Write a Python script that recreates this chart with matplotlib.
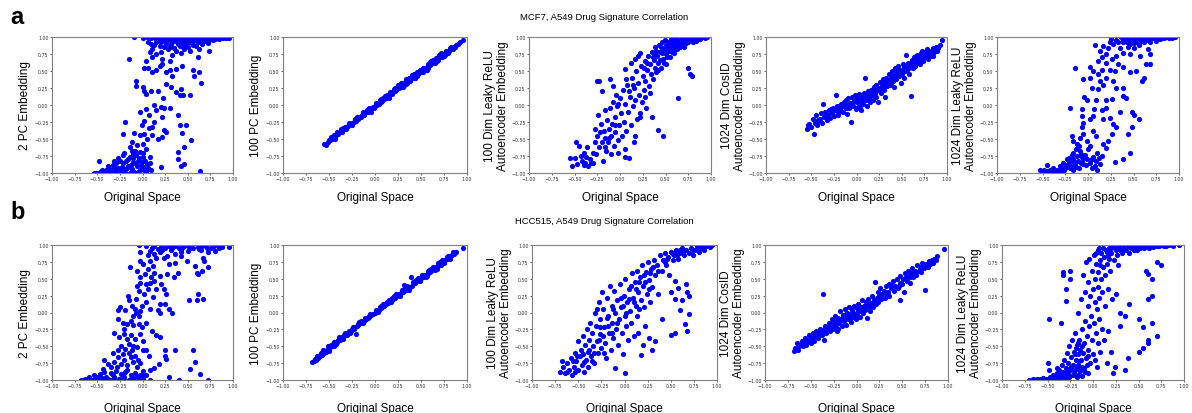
import numpy as np
import matplotlib
matplotlib.use('Agg')
import matplotlib.pyplot as plt

plt.rcParams['font.family'] = ['Liberation Sans', 'DejaVu Sans']

row_titles = ['MCF7, A549 Drug Signature Correlation', 'HCC515, A549 Drug Signature Correlation']
row_letters = ['a', 'b']
ylabels = ['2 PC Embedding', '100 PC Embedding',
           '100 Dim Leaky ReLU\nAutoencoder Embedding',
           '1024 Dim CosID\nAutoencoder Embedding',
           '1024 Dim Leaky ReLU\nAutoencoder Embedding']
xlabel = 'Original Space'
ticks = [-1.0, -0.75, -0.5, -0.25, 0.0, 0.25, 0.5, 0.75, 1.0]

# ---- row a : MCF7 vs A549 (x = original space, y = embedding)
mcf7_pc2 = np.array([
    (-0.09, 1.00), (-0.15, 0.67), (0.04, 0.65), (0.06, 0.55), (0.02, 0.54), (0.11, 0.48), (0.15, 0.51),
    (0.19, 0.58), (0.22, 0.60), (0.26, 0.48), (0.30, 0.51), (0.33, 0.43), (0.37, 0.53), (0.44, 0.58),
    (0.56, 0.52), (0.57, 0.43), (0.62, 0.49), (0.65, 0.32), (0.61, 0.71), (0.74, 0.80),
    (-0.07, 0.36), (-0.07, 0.28), (0.00, 0.26), (0.02, 0.21), (0.04, 0.16), (0.09, 0.20), (0.17, 0.21),
    (0.26, 0.31), (0.31, 0.27), (0.37, 0.19), (0.42, 0.24), (0.41, 0.14), (0.45, 0.14), (0.53, 0.14),
    (0.23, 0.11), (0.13, 0.00), (0.04, -0.06), (-0.03, -0.10), (0.15, -0.07), (0.20, -0.03), (0.24, -0.05),
    (0.30, -0.04), (-0.19, -0.25), (0.02, -0.23), (0.07, -0.15), (0.13, -0.25), (0.22, -0.18), (0.39, -0.14),
    (0.41, -0.29), (0.48, -0.29), (-0.01, -0.30), (0.07, -0.34), (0.11, -0.33), (-0.21, -0.43), (-0.09, -0.41),
    (-0.03, -0.44), (0.02, -0.42), (0.11, -0.44), (0.17, -0.50), (0.24, -0.37), (0.26, -0.40), (0.22, -0.47),
    (0.44, -0.41), (0.54, -0.51), (0.46, -0.62), (0.39, -0.69), (0.39, -0.79), (0.43, -0.90), (0.46, -0.87),
    (0.20, -0.91), (0.64, -0.97), (0.08, -0.77), (0.04, -0.64), (0.00, -0.58), (-0.06, -0.59), (0.05, -0.50),
    (-0.12, -0.55), (-0.14, -0.62), (-0.12, -0.67), (-0.11, -0.72), (-0.07, -0.74), (-0.05, -0.82),
    (-0.01, -0.84), (-0.11, -0.84), (-0.16, -0.79), (-0.22, -0.74), (-0.25, -0.82), (-0.29, -0.86),
    (-0.32, -0.91), (-0.36, -0.94), (-0.40, -0.96), (-0.43, -0.98), (-0.47, -0.99), (-0.51, -1.00),
    (-0.54, -1.00), (-0.48, -0.83), (-0.29, -0.96), (-0.23, -0.91), (-0.20, -0.96), (-0.16, -0.89),
    (-0.12, -0.94), (-0.09, -0.99), (-0.03, -0.96), (0.00, -0.91), (0.04, -0.99), (-0.05, -0.99),
    (-0.25, -1.00), (-0.34, -1.00), (-0.42, -1.00), (-0.14, -1.00), (-0.18, -0.82), (-0.08, -0.67),
    (-0.03, -0.69), (0.00, -0.77), (0.03, -0.82), (0.08, -0.85), (0.09, -0.96), (-0.22, -0.85),
    (-0.31, -0.82), (-0.38, -0.90), (-0.27, -0.92), (-0.19, -0.99), (-0.06, -0.90), (0.06, -0.92),
    (-0.35, -0.97), (-0.30, -0.99), (-0.24, -0.95), (-0.17, -0.93), (-0.13, -0.88), (-0.10, -0.78),
    (-0.08, -0.86), (-0.02, -0.88), (0.02, -0.95), (-0.45, -0.95), (-0.39, -0.98), (-0.33, -0.88),
    (-0.27, -0.78), (-0.20, -0.70), (-0.14, -0.76), (-0.04, -0.78), (0.01, -0.71), (0.05, -0.87),
    (0.00, 0.99), (0.05, 1.00), (0.09, 0.98), (0.12, 1.00), (0.15, 0.97), (0.18, 0.99), (0.21, 1.00),
    (0.24, 0.96), (0.27, 0.99), (0.30, 1.00), (0.33, 0.97), (0.36, 0.99), (0.39, 1.00), (0.42, 0.96),
    (0.45, 0.99), (0.48, 1.00), (0.51, 0.97), (0.54, 0.99), (0.57, 1.00), (0.60, 0.97), (0.63, 0.99),
    (0.66, 1.00), (0.69, 0.98), (0.72, 1.00), (0.75, 0.98), (0.78, 0.99), (0.81, 0.98), (0.85, 0.99),
    (0.89, 0.98), (0.96, 0.99), (0.09, 0.90), (0.15, 0.92), (0.19, 0.87), (0.26, 0.90), (0.33, 0.92),
    (0.41, 0.87), (0.48, 0.90), (0.53, 0.92), (0.59, 0.87), (0.66, 0.90), (0.72, 0.91), (0.46, 0.82),
    (0.37, 0.80), (0.28, 0.82), (0.20, 0.78), (0.15, 0.75), (0.11, 0.70), (0.33, 0.73), (0.42, 0.77),
    (0.53, 0.80), (0.08, 0.78), (0.22, 0.68), (0.30, 0.64), (0.11, 0.82), (0.62, 0.82), (0.24, 0.94),
    (0.35, 0.95), (0.44, 0.93), (0.50, 0.95), (0.56, 0.94), (0.62, 0.95), (0.68, 0.94), (0.78, 0.95),
    (0.17, 0.95), (0.30, 0.86), (0.39, 0.90), (0.50, 0.86), (0.56, 0.88), (0.13, 0.88), (0.06, 0.93),
    (0.20, 0.93), (0.28, 0.95), (0.32, 0.89), (0.37, 0.94), (0.40, 0.97), (0.44, 0.89), (0.47, 0.95),
    (0.52, 0.99), (0.55, 0.91), (0.58, 0.96), (0.61, 0.92), (0.64, 0.96), (0.70, 0.96), (0.74, 0.95),
    (0.80, 0.97), (0.84, 0.97), (0.87, 1.00), (0.92, 0.99), (0.24, 0.85), (0.35, 0.84), (0.45, 0.86),
])

mcf7_pc100 = np.array([
    (-0.55, -0.58), (-0.53, -0.59), (-0.51, -0.54), (-0.49, -0.52), (-0.47, -0.50), (-0.45, -0.47),
    (-0.44, -0.50), (-0.42, -0.44), (-0.40, -0.43), (-0.38, -0.40), (-0.36, -0.39), (-0.34, -0.36),
    (-0.32, -0.33), (-0.31, -0.36), (-0.29, -0.31), (-0.27, -0.28), (-0.25, -0.27), (-0.23, -0.25),
    (-0.21, -0.23), (-0.19, -0.19), (-0.18, -0.21), (-0.16, -0.17), (-0.14, -0.15), (-0.12, -0.14),
    (-0.10, -0.11), (-0.08, -0.10), (-0.06, -0.06), (-0.04, -0.11), (-0.04, -0.05), (-0.02, -0.03),
    (0.00, -0.01), (0.02, 0.00), (0.04, 0.02), (0.06, 0.05), (0.08, 0.06), (0.10, 0.09), (0.12, 0.11),
    (0.13, 0.14), (0.15, 0.13), (0.17, 0.16), (0.18, 0.19), (0.20, 0.19), (0.21, 0.23), (0.23, 0.22),
    (0.24, 0.26), (0.26, 0.25), (0.27, 0.29), (0.29, 0.28), (0.30, 0.32), (0.32, 0.30), (0.33, 0.34),
    (0.35, 0.33), (0.36, 0.37), (0.38, 0.36), (0.39, 0.40), (0.41, 0.39), (0.42, 0.43), (0.44, 0.42),
    (0.45, 0.46), (0.47, 0.45), (0.48, 0.49), (0.50, 0.48), (0.51, 0.52), (0.53, 0.51), (0.54, 0.55),
    (0.56, 0.54), (0.58, 0.58), (0.60, 0.59), (0.62, 0.62), (0.64, 0.64), (0.66, 0.66), (0.68, 0.68),
    (0.70, 0.70), (0.72, 0.72), (0.74, 0.74), (0.76, 0.76), (0.78, 0.78), (0.80, 0.80), (0.82, 0.82),
    (0.84, 0.84), (0.86, 0.86), (0.88, 0.88), (0.90, 0.90), (0.96, 0.96), (0.28, 0.33), (0.42, 0.46),
    (0.70, 0.73), (0.65, 0.62), (0.55, 0.52), (0.15, 0.10), (-0.25, -0.30), (-0.33, -0.32), (0.05, 0.08),
    (-0.45, -0.44), (0.58, 0.61), (0.75, 0.72), (0.60, 0.63), (0.34, 0.31), (0.46, 0.43), (0.22, 0.20),
    (-0.50, -0.51), (-0.43, -0.47), (-0.37, -0.36), (-0.30, -0.33), (-0.22, -0.21), (-0.15, -0.18),
    (-0.09, -0.07), (-0.01, -0.04), (0.07, 0.09), (0.11, 0.13), (0.19, 0.16), (0.25, 0.29), (0.31, 0.29),
    (0.37, 0.40), (0.43, 0.40), (0.49, 0.52), (0.52, 0.49), (0.57, 0.56), (0.63, 0.66), (0.67, 0.64),
    (0.71, 0.74), (0.73, 0.70), (0.77, 0.79), (0.79, 0.77), (0.83, 0.85), (0.85, 0.83), (0.92, 0.92),
    (-0.48, -0.47), (-0.41, -0.40), (-0.35, -0.34), (-0.28, -0.26), (-0.20, -0.17), (-0.13, -0.11),
    (-0.07, -0.04), (0.01, 0.03), (0.09, 0.11), (0.16, 0.19), (0.22, 0.25), (0.28, 0.27), (0.34, 0.38),
    (0.40, 0.44), (0.46, 0.49), (0.52, 0.55), (0.58, 0.55), (0.61, 0.65), (0.66, 0.69), (0.69, 0.66),
    (0.72, 0.76), (0.76, 0.73), (0.81, 0.84), (0.87, 0.85), (0.30, 0.26), (0.44, 0.39), (0.56, 0.51),
])

mcf7_leaky100 = np.array([
    (-0.55, -0.78), (-0.53, -0.90), (-0.50, -0.78), (-0.48, -0.55), (-0.47, -0.87), (-0.45, -0.60),
    (-0.43, -0.75), (-0.42, -0.82), (-0.40, -0.88), (-0.40, -0.70), (-0.38, -0.85), (-0.37, -0.77),
    (-0.36, -0.62), (-0.35, -0.90), (-0.33, -0.80), (-0.32, -0.86), (-0.30, -0.70), (-0.30, -0.85),
    (-0.28, -0.55), (-0.27, -0.35), (-0.26, -0.72), (-0.25, -0.45), (-0.24, -0.15), (-0.23, -0.62),
    (-0.22, -0.40), (-0.21, -0.28), (-0.20, -0.55), (-0.19, -0.82), (-0.18, -0.38), (-0.17, -0.08),
    (-0.16, -0.48), (-0.15, -0.68), (-0.14, -0.22), (-0.13, -0.55), (-0.12, -0.35), (-0.11, -0.05),
    (-0.10, -0.45), (-0.10, -0.72), (-0.09, -0.28), (-0.08, 0.05), (-0.07, -0.60), (-0.06, -0.18),
    (-0.05, -0.40), (-0.04, 0.15), (-0.03, -0.02), (-0.02, -0.52), (-0.01, -0.30), (0.00, 0.10),
    (0.01, -0.12), (0.02, -0.45), (0.03, 0.22), (0.04, -0.25), (0.05, -0.65), (0.06, 0.02), (0.07, -0.38),
    (0.08, 0.30), (0.09, -0.10), (0.10, -0.78), (0.11, 0.12), (0.12, -0.30), (0.13, 0.40), (0.14, -0.02),
    (0.15, 0.25), (0.16, -0.45), (0.17, 0.08), (0.18, 0.50), (0.19, -0.20), (0.20, 0.32), (0.21, 0.15),
    (0.22, -0.12), (0.23, 0.58), (0.24, 0.05), (0.25, 0.42), (0.26, 0.22), (0.27, 0.65), (0.28, 0.35),
    (0.29, -0.05), (0.30, 0.52), (0.31, 0.72), (0.32, 0.28), (0.33, 0.60), (0.34, 0.45), (0.35, -0.17),
    (0.35, 0.78), (0.36, 0.38), (0.37, 0.66), (0.38, 0.55), (0.39, 0.85), (0.40, 0.48), (0.41, 0.72),
    (0.42, -0.37), (0.42, 0.62), (0.43, 0.88), (0.44, 0.78), (0.45, 0.55), (0.46, 0.92), (0.47, -0.45),
    (0.47, 0.68), (0.48, 0.82), (0.49, 0.95), (0.50, 0.75), (0.51, 0.60), (0.52, 0.88), (0.53, 0.93),
    (0.54, 0.80), (0.55, 0.70), (0.56, 0.97), (0.57, 0.85), (0.58, 0.90), (0.59, 0.76), (0.60, 0.94),
    (0.61, 0.87), (0.62, 0.98), (0.63, 0.82), (0.64, 0.10), (0.65, 0.92), (0.66, 0.96), (0.67, 0.88),
    (0.68, 0.99), (0.69, 0.93), (0.70, 0.85), (0.71, 0.97), (0.72, 0.91), (0.74, 0.99), (0.75, 0.55),
    (0.76, 0.95), (0.77, 0.45), (0.78, 0.98), (0.79, 0.42), (0.80, 0.93), (0.82, 0.99), (0.84, 0.96),
    (0.86, 0.99), (0.88, 0.97), (0.90, 1.00), (0.93, 0.99), (0.96, 1.00), (-0.25, 0.35), (-0.23, 0.36),
    (-0.20, 0.21), (-0.11, 0.38), (-0.08, 0.28), (0.05, 0.53), (0.07, 0.38), (0.12, 0.62), (0.16, 0.68),
    (0.20, 0.72), (0.22, 0.77), (0.06, -0.76), (0.22, -0.18), (0.15, -0.55), (-0.02, -0.70), (0.28, 0.12),
    (0.33, 0.18), (0.45, 0.85), (0.50, 0.88), (0.55, 0.90), (0.60, 0.82), (0.64, 0.90), (0.68, 0.92),
    (0.73, 0.95), (0.80, 0.97), (0.58, 0.96), (0.52, 0.70), (0.44, 0.66), (0.38, 0.75), (0.48, 0.62),
    (0.40, 0.80), (0.46, 0.76), (0.50, 0.82), (0.54, 0.86), (0.57, 0.78), (0.61, 0.91), (0.66, 0.86),
    (0.70, 0.95), (0.75, 0.92), (0.83, 0.94), (0.87, 1.00), (0.36, 0.70), (0.42, 0.52), (0.30, 0.62),
    (0.26, 0.55), (0.14, 0.30), (0.10, 0.20), (-0.02, 0.02), (-0.06, -0.30), (-0.12, -0.48), (-0.17, -0.62),
])

mcf7_cos1024 = np.array([
    (-0.55, -0.35), (-0.54, -0.30), (-0.52, -0.28), (-0.50, -0.32), (-0.48, -0.20), (-0.47, -0.43),
    (-0.46, -0.27), (-0.45, -0.15), (-0.44, -0.30), (-0.42, -0.24), (-0.40, -0.20), (-0.39, -0.12),
    (-0.38, -0.26), (-0.37, 0.02), (-0.36, -0.18), (-0.35, -0.10), (-0.33, -0.22), (-0.32, -0.14),
    (-0.30, -0.08), (-0.29, -0.19), (-0.27, -0.12), (-0.26, -0.04), (-0.25, -0.16), (-0.23, 0.14),
    (-0.22, -0.09), (-0.21, -0.02), (-0.20, -0.14), (-0.18, -0.06), (-0.17, 0.02), (-0.15, -0.10),
    (-0.14, 0.05), (-0.13, -0.03), (-0.12, 0.08), (-0.11, -0.13), (-0.10, 0.00), (-0.09, 0.10),
    (-0.08, -0.05), (-0.07, 0.03), (-0.06, -0.25), (-0.05, 0.12), (-0.04, -0.02), (-0.03, 0.06),
    (-0.02, 0.15), (-0.01, -0.06), (0.00, 0.04), (0.01, 0.10), (0.02, -0.03), (0.03, 0.16), (0.04, 0.07),
    (0.05, -0.08), (0.06, 0.12), (0.07, 0.02), (0.08, 0.18), (0.09, 0.40), (0.10, 0.08), (0.11, 0.14),
    (0.12, -0.02), (0.13, 0.20), (0.14, 0.10), (0.15, 0.05), (0.16, 0.22), (0.17, 0.15), (0.18, 0.08),
    (0.19, 0.26), (0.20, 0.18), (0.21, 0.12), (0.22, 0.30), (0.23, 0.22), (0.24, 0.05), (0.25, 0.25),
    (0.26, 0.34), (0.27, 0.18), (0.28, 0.28), (0.29, 0.38), (0.30, 0.22), (0.31, 0.32), (0.32, 0.12),
    (0.33, 0.40), (0.34, 0.28), (0.35, 0.35), (0.36, 0.46), (0.37, 0.30), (0.38, 0.40), (0.39, 0.50),
    (0.40, 0.36), (0.41, 0.26), (0.42, 0.44), (0.43, 0.54), (0.44, 0.38), (0.45, 0.48), (0.46, 0.58),
    (0.47, 0.42), (0.48, 0.52), (0.49, 0.32), (0.50, 0.46), (0.51, 0.60), (0.52, 0.50), (0.53, 0.40),
    (0.54, 0.56), (0.55, 0.73), (0.56, 0.52), (0.57, 0.62), (0.58, 0.46), (0.59, 0.58), (0.60, 0.13),
    (0.61, 0.66), (0.62, 0.54), (0.63, 0.62), (0.64, 0.70), (0.65, 0.58), (0.66, 0.66), (0.67, 0.74),
    (0.68, 0.62), (0.69, 0.70), (0.70, 0.60), (0.71, 0.76), (0.72, 0.68), (0.73, 0.72), (0.74, 0.64),
    (0.75, 0.78), (0.76, 0.70), (0.77, 0.75), (0.78, 0.82), (0.79, 0.68), (0.80, 0.76), (0.82, 0.80),
    (0.84, 0.72), (0.85, 0.84), (0.87, 0.80), (0.88, 0.86), (0.90, 0.84), (0.92, 0.88), (0.95, 0.95),
    (-0.28, -0.06), (-0.16, -0.02), (-0.04, 0.04), (0.06, 0.06), (0.14, 0.16), (0.22, 0.20), (0.30, 0.28),
    (0.36, 0.34), (0.44, 0.44), (0.50, 0.50), (0.56, 0.58), (0.62, 0.64), (0.68, 0.68), (0.74, 0.72),
    (0.20, 0.26), (0.32, 0.36), (0.40, 0.42), (0.46, 0.52), (0.52, 0.56), (0.60, 0.62), (0.27, 0.25),
    (-0.43, -0.22), (-0.34, -0.16), (-0.24, -0.08), (-0.19, -0.10), (-0.12, -0.04), (-0.06, 0.00),
    (0.02, 0.06), (0.08, 0.10), (0.12, 0.12), (0.18, 0.20), (0.24, 0.22), (0.28, 0.32), (0.34, 0.36),
    (0.38, 0.32), (0.42, 0.40), (0.48, 0.46), (0.54, 0.50), (0.58, 0.54), (0.64, 0.60), (0.70, 0.66),
    (0.76, 0.76), (0.81, 0.72), (0.86, 0.78), (0.89, 0.80), (0.72, 0.80), (0.66, 0.72), (0.05, 0.00),
])

mcf7_leaky1024 = np.array([
    (-0.53, -0.96), (-0.45, -0.97), (-0.42, -0.95), (-0.45, -0.88), (-0.38, -0.92), (-0.34, -0.95),
    (-0.31, -0.90), (-0.27, -0.85), (-0.25, -0.92), (-0.22, -0.87), (-0.23, -0.80), (-0.20, -0.82),
    (-0.18, -0.73), (-0.16, -0.80), (-0.14, -0.87), (-0.12, -0.75), (-0.11, -0.82), (-0.09, -0.68),
    (-0.07, -0.77), (-0.05, -0.87), (-0.03, -0.73), (-0.01, -0.80), (0.02, -0.85), (0.06, -0.77),
    (0.09, -0.82), (0.13, -0.87), (0.15, -0.75), (-0.50, -0.98), (-0.48, -0.95), (-0.40, -0.98),
    (-0.36, -0.97), (-0.30, -0.96), (-0.28, -0.93), (-0.20, -0.93), (-0.17, -0.95), (-0.10, -0.92),
    (-0.18, -0.46), (-0.16, -0.53), (-0.12, -0.58), (-0.09, -0.48), (-0.07, -0.33), (-0.05, -0.43),
    (-0.01, -0.53), (0.02, -0.60), (0.06, -0.38), (0.09, -0.46), (0.17, -0.58), (0.20, -0.63),
    (0.22, -0.53), (0.26, -0.43), (0.30, -0.84), (0.39, -0.80), (0.46, -0.70), (0.44, -0.43),
    (0.48, -0.33), (0.50, -0.14), (0.56, -0.20), (0.48, -0.11), (-0.20, -0.04), (-0.07, -0.06),
    (-0.07, -0.16), (-0.05, -0.26), (0.02, -0.21), (0.06, -0.16), (0.07, -0.06), (0.15, -0.08),
    (0.17, -0.21), (0.20, -0.04), (0.24, -0.19), (0.28, -0.28), (0.31, -0.33), (0.35, -0.11),
    (0.09, 0.07), (-0.01, 0.07), (0.20, 0.08), (0.26, 0.09), (0.39, 0.13), (0.42, 0.10), (0.39, 0.25),
    (0.31, 0.25), (0.28, 0.35), (0.20, 0.40), (0.17, 0.30), (0.11, 0.23), (0.04, 0.25), (-0.05, 0.38),
    (-0.14, 0.54), (0.02, 0.56), (0.06, 0.50), (0.11, 0.45), (0.15, 0.52), (0.20, 0.62), (0.24, 0.52),
    (0.30, 0.50), (0.33, 0.61), (0.39, 0.56), (0.46, 0.48), (0.53, 0.50), (0.59, 0.35), (0.62, 0.40),
    (0.64, 0.60), (0.68, 0.60), (0.68, 0.75), (0.66, 0.82), (0.57, 0.72), (0.51, 0.84), (0.46, 0.75),
    (0.39, 0.77), (0.31, 0.72), (0.26, 0.67), (0.20, 0.75), (0.15, 0.70), (0.11, 0.65), (0.08, 0.88),
    (0.13, 0.79), (0.17, 0.87), (0.22, 0.84), (0.28, 0.89), (0.33, 0.93), (0.35, 0.84), (0.31, 0.96),
    (0.39, 0.95), (0.42, 0.98), (0.48, 0.96), (0.51, 0.99), (0.57, 0.98), (0.61, 0.96), (0.64, 0.99),
    (0.68, 0.97), (0.73, 0.98), (0.79, 0.97), (0.84, 0.99), (0.89, 0.98), (0.96, 1.00), (0.39, 0.92),
    (0.46, 0.90), (0.53, 0.93), (0.61, 0.92), (0.68, 0.93), (0.75, 0.94), (0.24, 0.92), (0.44, 0.86),
    (0.56, 0.88), (0.02, 0.40), (0.13, 0.35), (-0.04, 0.12), (0.25, 0.97), (0.36, 1.00), (0.45, 0.99),
    (-0.10, -0.60), (-0.13, -0.65), (0.00, -0.65), (0.10, -0.70), (0.04, -0.92), (0.10, -0.95),
    (-0.44, -0.99), (-0.38, -0.97), (-0.33, -0.99), (-0.29, -0.97), (-0.26, -0.95), (-0.24, -0.89),
    (-0.19, -0.90), (-0.15, -0.84), (-0.13, -0.91), (-0.08, -0.85), (-0.06, -0.79), (-0.02, -0.88),
    (0.04, -0.80), (0.08, -0.90), (0.12, -0.78), (-0.21, -0.78), (-0.16, -0.70), (-0.08, -0.72),
    (0.40, 0.97), (0.47, 0.95), (0.52, 0.97), (0.55, 0.99), (0.60, 0.98), (0.66, 0.95), (0.70, 0.99),
    (0.77, 0.99), (0.81, 0.98), (0.86, 1.00), (0.92, 0.99), (0.43, 0.93), (0.50, 0.91), (0.58, 0.94),
])

# ---- row b : HCC515 vs A549
hcc_pc2 = np.array([
    (-0.04, 1.00), (0.04, 0.99), (0.10, 0.96), (0.13, 0.99), (0.17, 0.94), (0.20, 0.97), (0.25, 0.95),
    (0.29, 0.99), (0.33, 0.96), (0.36, 0.98), (0.40, 0.96), (0.45, 0.97), (0.50, 0.98), (0.56, 0.96),
    (0.61, 0.97), (0.66, 0.98), (0.71, 0.96), (0.79, 0.98), (0.84, 0.96), (0.88, 0.97), (0.96, 0.97),
    (0.08, 0.91), (0.13, 0.86), (0.19, 0.89), (0.27, 0.84), (0.36, 0.86), (0.43, 0.89), (0.50, 0.91),
    (0.65, 0.92), (0.72, 0.89), (0.80, 0.91), (-0.03, 0.89), (-0.03, 0.76), (0.01, 0.72), (0.08, 0.76),
    (0.12, 0.69), (0.15, 0.81), (0.24, 0.81), (0.29, 0.72), (0.36, 0.74), (0.43, 0.84), (0.49, 0.77),
    (0.67, 0.81), (0.68, 0.77), (0.58, 0.69), (0.72, 0.68), (-0.14, 0.67), (-0.06, 0.62), (-0.03, 0.52),
    (0.03, 0.57), (0.06, 0.64), (0.13, 0.59), (0.19, 0.54), (0.27, 0.57), (0.35, 0.52), (0.39, 0.59),
    (0.60, 0.58), (0.61, 0.57), (0.66, 0.62), (-0.06, 0.40), (-0.03, 0.44), (0.04, 0.42), (0.08, 0.44),
    (0.13, 0.47), (0.20, 0.42), (0.24, 0.35), (-0.04, 0.32), (0.06, 0.35), (0.15, 0.35), (0.26, 0.27),
    (-0.16, 0.25), (-0.15, 0.18), (-0.07, 0.20), (0.02, 0.27), (0.04, 0.16), (0.12, 0.23), (0.19, 0.13),
    (0.25, 0.13), (0.29, 0.05), (0.33, -0.01), (0.17, 0.03), (0.19, 0.00), (0.51, 0.18), (0.60, 0.18),
    (0.61, 0.27), (0.67, 0.20), (-0.25, 0.08), (-0.27, 0.03), (-0.19, 0.03), (-0.12, 0.10), (-0.08, 0.05),
    (-0.07, -0.01), (-0.04, -0.05), (-0.03, 0.02), (0.08, 0.05), (-0.22, -0.15), (-0.27, -0.10),
    (-0.17, -0.17), (-0.13, -0.12), (-0.10, -0.19), (-0.04, -0.17), (-0.01, -0.22), (0.04, -0.15),
    (0.10, -0.27), (0.15, -0.34), (0.19, -0.36), (-0.31, -0.31), (-0.26, -0.37), (-0.20, -0.32),
    (-0.17, -0.39), (-0.13, -0.34), (-0.08, -0.39), (-0.03, -0.32), (0.01, -0.42), (-0.27, -0.56),
    (-0.24, -0.49), (-0.19, -0.54), (-0.15, -0.46), (-0.12, -0.56), (-0.06, -0.51), (0.01, -0.56),
    (0.04, -0.55), (0.25, -0.55), (0.36, -0.55), (0.56, -0.55), (0.58, -0.74), (0.52, -0.83),
    (0.64, -0.91), (0.72, -1.00), (0.40, -1.00), (0.29, -0.95), (0.26, -0.69), (0.25, -0.65),
    (0.18, -0.76), (0.13, -0.82), (0.08, -0.85), (-0.42, -0.70), (-0.38, -0.76), (-0.35, -0.81),
    (-0.31, -0.74), (-0.27, -0.66), (-0.24, -0.76), (-0.20, -0.71), (-0.17, -0.78), (-0.13, -0.66),
    (-0.10, -0.74), (-0.06, -0.81), (-0.03, -0.75), (0.01, -0.86), (-0.08, -0.64), (-0.63, -0.99),
    (-0.59, -0.96), (-0.54, -0.93), (-0.52, -0.99), (-0.47, -0.91), (-0.45, -0.97), (-0.42, -0.88),
    (-0.40, -0.95), (-0.36, -1.00), (-0.35, -0.89), (-0.31, -0.95), (-0.29, -0.86), (-0.26, -0.98),
    (-0.24, -0.91), (-0.20, -0.96), (-0.19, -0.88), (-0.15, -1.00), (-0.13, -0.92), (-0.10, -0.97),
    (-0.08, -0.90), (-0.04, -1.00), (-0.03, -0.93), (0.01, -0.98), (0.04, -0.93), (0.08, -1.00),
    (-0.56, -1.00), (-0.65, -1.00), (-0.49, -1.00), (-0.42, -1.00), (-0.31, -1.00), (-0.20, -1.00),
    (-0.10, -1.00), (-0.68, -1.00), (-0.33, -0.60), (-0.22, -0.62), (-0.05, -0.70), (0.07, -0.65),
    (-0.50, -0.95), (-0.44, -0.84), (-0.38, -0.98), (-0.33, -0.92), (-0.28, -0.80), (-0.22, -0.94),
    (-0.17, -0.85), (-0.12, -0.96), (-0.06, -0.95), (-0.01, -0.92), (-0.15, -0.60), (-0.10, -0.50),
    (-0.20, -0.25), (-0.10, -0.05), (-0.01, 0.10), (0.06, 0.85), (0.22, 0.92), (0.31, 0.93),
    (0.42, 0.93), (0.53, 0.95), (0.62, 0.94), (0.70, 0.99), (0.76, 0.95), (0.85, 0.99), (0.09, 0.52),
])

hcc_pc100 = np.array([
    (-0.68, -0.74), (-0.66, -0.72), (-0.64, -0.70), (-0.62, -0.68), (-0.60, -0.65), (-0.58, -0.63),
    (-0.57, -0.60), (-0.55, -0.60), (-0.54, -0.57), (-0.52, -0.55), (-0.50, -0.54), (-0.49, -0.51),
    (-0.47, -0.50), (-0.46, -0.47), (-0.44, -0.47), (-0.43, -0.44), (-0.41, -0.44), (-0.40, -0.41),
    (-0.38, -0.40), (-0.37, -0.38), (-0.35, -0.37), (-0.34, -0.34), (-0.32, -0.34), (-0.31, -0.31),
    (-0.29, -0.30), (-0.28, -0.28), (-0.26, -0.27), (-0.25, -0.25), (-0.23, -0.24), (-0.22, -0.21),
    (-0.21, -0.32), (-0.20, -0.20), (-0.18, -0.18), (-0.16, -0.16), (-0.14, -0.14), (-0.12, -0.12),
    (-0.10, -0.10), (-0.08, -0.08), (-0.06, -0.06), (-0.04, -0.04), (-0.02, -0.02), (0.00, 0.00),
    (0.02, 0.02), (0.04, 0.04), (0.06, 0.06), (0.08, 0.08), (0.10, 0.10), (0.12, 0.12), (0.14, 0.14),
    (0.16, 0.16), (0.18, 0.18), (0.20, 0.20), (0.22, 0.22), (0.24, 0.25), (0.26, 0.26), (0.28, 0.29),
    (0.30, 0.30), (0.31, 0.41), (0.32, 0.32), (0.34, 0.34), (0.36, 0.36), (0.38, 0.38), (0.39, 0.52),
    (0.40, 0.40), (0.42, 0.43), (0.44, 0.44), (0.46, 0.47), (0.48, 0.48), (0.50, 0.51), (0.52, 0.52),
    (0.54, 0.55), (0.56, 0.56), (0.58, 0.59), (0.60, 0.60), (0.62, 0.63), (0.64, 0.64), (0.66, 0.67),
    (0.68, 0.69), (0.70, 0.71), (0.72, 0.74), (0.74, 0.76), (0.76, 0.78), (0.78, 0.79), (0.80, 0.81),
    (0.82, 0.83), (0.84, 0.85), (0.86, 0.87), (0.88, 0.89), (0.96, 0.96), (-0.50, -0.57), (-0.45, -0.50),
    (-0.30, -0.33), (-0.15, -0.13), (0.05, 0.08), (0.15, 0.18), (0.25, 0.28), (0.35, 0.33), (0.45, 0.48),
    (0.55, 0.53), (0.65, 0.63), (0.72, 0.70), (0.78, 0.82), (0.58, 0.62), (-0.60, -0.63), (-0.35, -0.39),
    (-0.65, -0.69), (-0.59, -0.60), (-0.53, -0.58), (-0.48, -0.48), (-0.42, -0.47), (-0.36, -0.36),
    (-0.27, -0.31), (-0.19, -0.17), (-0.13, -0.15), (-0.07, -0.05), (0.03, 0.01), (0.09, 0.12),
    (0.17, 0.15), (0.21, 0.25), (0.27, 0.24), (0.33, 0.36), (0.37, 0.34), (0.43, 0.46), (0.49, 0.46),
    (0.53, 0.56), (0.57, 0.54), (0.61, 0.64), (0.67, 0.64), (0.71, 0.75), (0.75, 0.73), (0.81, 0.79),
    (-0.63, -0.64), (-0.56, -0.56), (-0.51, -0.50), (-0.45, -0.44), (-0.39, -0.37), (-0.33, -0.31),
    (-0.24, -0.22), (-0.17, -0.14), (-0.11, -0.08), (-0.05, -0.02), (0.01, 0.04), (0.07, 0.10),
    (0.13, 0.16), (0.19, 0.22), (0.23, 0.28), (0.29, 0.33), (0.35, 0.39), (0.41, 0.45), (0.47, 0.51),
    (0.51, 0.55), (0.59, 0.63), (0.63, 0.67), (0.69, 0.73), (0.73, 0.78), (0.79, 0.83), (0.85, 0.89),
])

hcc_leaky100 = np.array([
    (-0.70, -0.88), (-0.68, -0.72), (-0.66, -0.80), (-0.64, -0.90), (-0.62, -0.75), (-0.60, -0.85),
    (-0.58, -0.68), (-0.57, -0.92), (-0.55, -0.80), (-0.54, -0.60), (-0.53, -0.88), (-0.52, -0.72),
    (-0.50, -0.42), (-0.50, -0.85), (-0.48, -0.65), (-0.47, -0.55), (-0.46, -0.78), (-0.45, -0.35),
    (-0.44, -0.88), (-0.43, -0.48), (-0.42, -0.70), (-0.41, -0.25), (-0.40, -0.58), (-0.39, -0.80),
    (-0.38, -0.40), (-0.37, -0.15), (-0.36, -0.65), (-0.35, -0.30), (-0.34, -0.50), (-0.33, -0.75),
    (-0.32, 0.00), (-0.31, -0.20), (-0.30, -0.42), (-0.29, -0.60), (-0.28, 0.15), (-0.27, -0.10),
    (-0.26, -0.32), (-0.25, -0.52), (-0.24, 0.30), (-0.23, 0.05), (-0.22, -0.22), (-0.21, -0.45),
    (-0.20, -0.68), (-0.19, 0.22), (-0.18, -0.05), (-0.17, -0.30), (-0.16, 0.40), (-0.15, -0.55),
    (-0.14, 0.10), (-0.13, -0.15), (-0.12, -0.38), (-0.11, 0.32), (-0.10, -0.82), (-0.10, 0.00),
    (-0.09, -0.25), (-0.08, 0.18), (-0.07, -0.48), (-0.06, -0.10), (-0.05, 0.42), (-0.04, 0.08),
    (-0.03, -0.30), (-0.02, -0.62), (-0.01, 0.25), (0.00, -0.90), (0.00, -0.05), (0.01, 0.50),
    (0.02, -0.20), (0.03, 0.15), (0.04, -0.40), (0.05, 0.35), (0.06, 0.02), (0.07, -0.15), (0.08, 0.58),
    (0.09, 0.22), (0.10, -0.35), (0.11, 0.45), (0.12, 0.10), (0.13, -0.05), (0.14, 0.62), (0.15, -0.30),
    (0.15, 0.30), (0.16, 0.05), (0.17, 0.52), (0.18, -0.63), (0.18, 0.18), (0.19, 0.70), (0.20, -0.48),
    (0.20, 0.40), (0.21, 0.08), (0.22, -0.20), (0.23, 0.60), (0.24, 0.28), (0.25, 0.75), (0.26, -0.38),
    (0.27, 0.48), (0.28, 0.15), (0.29, 0.65), (0.30, -0.55), (0.30, 0.38), (0.32, 0.78), (0.33, -0.42),
    (0.33, 0.55), (0.35, 0.70), (0.36, 0.28), (0.38, 0.85), (0.40, -0.10), (0.40, 0.62), (0.42, 0.78),
    (0.44, 0.88), (0.45, 0.70), (0.47, 0.82), (0.48, 0.55), (0.50, -0.33), (0.50, 0.30), (0.50, 0.90),
    (0.52, 0.78), (0.53, 0.85), (0.55, -0.30), (0.55, 0.20), (0.55, 0.47), (0.56, 0.92), (0.58, 0.37),
    (0.58, 0.80), (0.60, 0.03), (0.60, 0.88), (0.62, 0.18), (0.62, 0.95), (0.64, 0.85), (0.65, -0.17),
    (0.66, 0.42), (0.67, 0.92), (0.68, -0.28), (0.68, 0.30), (0.70, 0.25), (0.70, -0.02), (0.70, 0.88),
    (0.72, 0.95), (0.74, 0.85), (0.76, 0.92), (0.78, 0.98), (0.80, 0.90), (0.82, 0.95), (0.84, 0.99),
    (0.86, 0.93), (0.88, 0.98), (0.90, 1.00), (0.92, 0.97), (0.95, 1.00), (-0.45, -0.62), (-0.35, -0.72),
    (-0.28, -0.40), (-0.18, -0.20), (-0.12, 0.05), (-0.02, 0.10), (0.05, 0.20), (0.12, 0.35), (0.22, 0.45),
    (0.28, 0.58), (0.36, 0.62), (0.44, 0.75), (0.52, 0.86), (0.60, 0.93), (-0.22, -0.60), (-0.30, 0.05),
    (-0.62, -0.88), (-0.56, -0.72), (-0.51, -0.64), (-0.44, -0.74), (-0.38, -0.55), (-0.33, -0.60),
    (-0.27, -0.22), (-0.23, -0.35), (-0.19, -0.08), (-0.14, -0.30), (-0.08, -0.15), (-0.04, 0.22),
    (0.02, 0.00), (0.07, 0.40), (0.10, 0.15), (0.16, 0.45), (0.21, 0.55), (0.26, 0.35), (0.31, 0.68),
    (0.46, 0.80), (0.57, 0.85), (0.63, 0.90), (0.74, 0.92), (0.79, 0.95), (0.86, 0.97), (0.54, 0.88),
])

hcc_cos1024 = np.array([
    (-0.68, -0.57), (-0.67, -0.52), (-0.65, -0.45), (-0.64, -0.55), (-0.62, -0.48), (-0.60, -0.42),
    (-0.59, -0.50), (-0.57, -0.44), (-0.56, -0.38), (-0.55, -0.48), (-0.53, -0.40), (-0.52, -0.34),
    (-0.50, -0.45), (-0.49, -0.38), (-0.48, -0.30), (-0.46, -0.42), (-0.45, -0.35), (-0.44, -0.28),
    (-0.42, -0.38), (-0.41, -0.31), (-0.40, -0.24), (-0.38, -0.34), (-0.37, 0.28), (-0.36, -0.27),
    (-0.35, -0.40), (-0.34, -0.20), (-0.33, -0.30), (-0.32, -0.23), (-0.30, -0.16), (-0.29, -0.28),
    (-0.28, -0.20), (-0.27, -0.10), (-0.26, -0.24), (-0.25, -0.15), (-0.24, -0.05), (-0.23, -0.20),
    (-0.22, -0.12), (-0.21, -0.28), (-0.20, -0.08), (-0.19, -0.16), (-0.18, 0.02), (-0.17, -0.10),
    (-0.16, -0.20), (-0.15, -0.04), (-0.14, -0.13), (-0.13, 0.05), (-0.12, -0.08), (-0.11, -0.18),
    (-0.10, 0.00), (-0.09, -0.10), (-0.08, 0.08), (-0.07, -0.04), (-0.06, -0.14), (-0.05, 0.03),
    (-0.04, -0.06), (-0.03, 0.10), (-0.02, -0.02), (-0.01, -0.10), (0.00, 0.06), (0.01, -0.03),
    (0.02, 0.12), (0.03, 0.02), (0.04, -0.06), (0.05, 0.08), (0.06, 0.18), (0.07, 0.00), (0.08, 0.10),
    (0.09, 0.04), (0.10, 0.16), (0.11, -0.08), (0.12, 0.08), (0.13, 0.20), (0.14, 0.12), (0.15, 0.02),
    (0.16, 0.14), (0.17, 0.24), (0.18, 0.08), (0.19, 0.18), (0.20, 0.45), (0.21, 0.12), (0.22, 0.22),
    (0.23, 0.30), (0.24, 0.16), (0.25, 0.24), (0.26, 0.36), (0.27, 0.20), (0.28, 0.28), (0.30, 0.32),
    (0.31, 0.22), (0.32, 0.40), (0.34, 0.30), (0.35, 0.42), (0.36, 0.24), (0.38, 0.36), (0.40, 0.46),
    (0.41, 0.32), (0.42, 0.40), (0.44, 0.50), (0.45, 0.36), (0.47, 0.18), (0.47, 0.44), (0.48, 0.54),
    (0.50, 0.42), (0.51, 0.50), (0.52, 0.30), (0.53, 0.58), (0.55, 0.46), (0.56, 0.62), (0.57, 0.54),
    (0.58, 0.44), (0.60, 0.58), (0.61, 0.66), (0.62, 0.52), (0.64, 0.62), (0.65, 0.56), (0.66, 0.70),
    (0.68, 0.62), (0.70, 0.68), (0.71, 0.60), (0.72, 0.74), (0.74, 0.66), (0.75, 0.33), (0.76, 0.72),
    (0.78, 0.68), (0.79, 0.76), (0.80, 0.72), (0.82, 0.78), (0.84, 0.74), (0.85, 0.80), (0.87, 0.78),
    (0.88, 0.83), (0.96, 0.94), (-0.45, -0.30), (-0.38, -0.26), (-0.30, -0.22), (-0.24, -0.14),
    (-0.18, -0.12), (-0.12, -0.02), (-0.06, -0.06), (0.00, 0.00), (0.06, 0.06), (0.12, 0.14),
    (-0.20, -0.25), (-0.26, -0.18), (-0.14, -0.06), (-0.08, -0.02), (0.04, 0.04), (0.18, 0.14),
    (-0.63, -0.50), (-0.58, -0.46), (-0.54, -0.44), (-0.47, -0.36), (-0.43, -0.33), (-0.39, -0.30),
    (-0.31, -0.25), (-0.27, -0.16), (-0.22, -0.18), (-0.16, -0.10), (-0.10, -0.06), (-0.04, 0.00),
    (0.02, 0.04), (0.09, 0.10), (0.15, 0.10), (0.21, 0.18), (0.27, 0.26), (0.33, 0.26), (0.39, 0.40),
    (0.46, 0.40), (0.54, 0.52), (0.59, 0.52), (0.63, 0.58), (0.69, 0.64), (0.77, 0.68), (0.83, 0.76),
])

hcc_leaky1024 = np.array([
    (-0.70, -1.00), (-0.66, -0.99), (-0.62, -0.98), (-0.58, -0.99), (-0.55, -0.97), (-0.52, -0.98),
    (-0.50, -0.75), (-0.48, -0.85), (-0.48, -0.10), (-0.47, -0.96), (-0.44, -0.93), (-0.42, -0.97),
    (-0.40, -0.90), (-0.38, -0.94), (-0.37, -0.85), (-0.35, -0.91), (-0.35, -0.15), (-0.34, -0.78),
    (-0.33, 0.60), (-0.33, 0.55), (-0.33, -0.88), (-0.32, -0.70), (-0.31, -0.95), (-0.30, 0.35),
    (-0.30, 0.17), (-0.30, -0.82), (-0.29, -0.60), (-0.28, -0.90), (-0.27, -0.75), (-0.26, -0.50),
    (-0.25, 0.50), (-0.25, 0.62), (-0.25, -0.85), (-0.24, -0.66), (-0.23, -0.40), (-0.22, -0.92),
    (-0.22, -0.78), (-0.21, -0.58), (-0.20, -0.30), (-0.20, -0.85), (-0.19, -0.70), (-0.18, -0.48),
    (-0.17, -0.92), (-0.17, -0.62), (-0.16, 0.00), (-0.16, -0.78), (-0.15, -0.40), (-0.14, -0.55),
    (-0.14, -0.86), (-0.13, 0.20), (-0.13, -0.70), (-0.12, -0.25), (-0.11, -0.60), (-0.11, 0.55),
    (-0.10, -0.82), (-0.10, -0.45), (-0.09, 0.30), (-0.09, -0.12), (-0.08, -0.68), (-0.08, 0.75),
    (-0.07, -0.35), (-0.06, 0.10), (-0.06, -0.90), (-0.05, -0.55), (-0.05, 0.45), (-0.04, -0.20),
    (-0.04, 0.80), (-0.03, -0.75), (-0.03, 0.25), (-0.02, -0.05), (-0.01, -0.40), (-0.01, 0.62),
    (0.00, 0.35), (0.00, -0.62), (0.01, 0.85), (0.01, -0.15), (0.02, 0.15), (0.02, 0.50), (0.03, -0.30),
    (0.03, 0.72), (0.04, -0.80), (0.04, 0.05), (0.05, 0.92), (0.05, 0.38), (0.06, -0.45), (0.06, 0.60),
    (0.07, 0.22), (0.07, -0.10), (0.08, 0.78), (0.08, -0.58), (0.09, 0.50), (0.09, 0.88), (0.10, 0.30),
    (0.10, -0.25), (0.11, 0.68), (0.11, 0.95), (0.12, -0.40), (0.12, 0.82), (0.13, 0.10), (0.13, 0.55),
    (0.14, 0.92), (0.15, -0.75), (0.15, 0.72), (0.16, 0.35), (0.17, 0.85), (0.17, -0.28), (0.18, 0.95),
    (0.19, 0.62), (0.20, 0.88), (0.20, -0.58), (0.21, 0.20), (0.22, 0.97), (0.22, -0.90), (0.23, 0.78),
    (0.24, -0.80), (0.25, 0.92), (0.25, 0.28), (0.26, 0.85), (0.27, 0.98), (0.28, 0.70), (0.30, 0.00),
    (0.30, -0.20), (0.30, 0.93), (0.32, 0.88), (0.33, 0.98), (0.35, -0.05), (0.35, -0.85), (0.36, 0.92),
    (0.38, -0.67), (0.38, 0.98), (0.40, 0.12), (0.40, 0.88), (0.42, 0.96), (0.44, 1.00), (0.45, 0.92),
    (0.47, 0.98), (0.48, 0.93), (0.50, -0.58), (0.50, -0.10), (0.50, 0.99), (0.52, 0.95), (0.54, 1.00),
    (0.55, -0.52), (0.55, -0.22), (0.56, 0.96), (0.58, 0.62), (0.58, 0.99), (0.60, -0.45), (0.60, -0.40),
    (0.60, 0.20), (0.60, 0.57), (0.61, 0.95), (0.63, 0.99), (0.65, 0.25), (0.65, 0.50), (0.65, -0.15),
    (0.66, 0.97), (0.68, 1.00), (0.70, -0.35), (0.70, 0.75), (0.72, 0.98), (0.75, 0.70), (0.76, 1.00),
    (0.80, 0.99), (0.84, 1.00), (0.88, 0.99), (0.95, 1.00), (-0.45, -0.99), (-0.38, -0.99), (-0.30, -0.98),
    (-0.26, -0.95), (-0.18, -0.96), (-0.12, -0.94), (-0.40, -0.82), (-0.36, -0.97), (-0.20, -0.62),
    (-0.64, -1.00), (-0.60, -1.00), (-0.56, -0.99), (-0.53, -1.00), (-0.50, -0.99), (-0.46, -1.00),
    (-0.41, -0.99), (-0.34, -0.96), (-0.32, -0.90), (-0.29, -0.88), (-0.27, -0.93), (-0.24, -0.80),
    (-0.21, -0.90), (-0.18, -0.82), (-0.15, -0.72), (-0.12, -0.80), (-0.09, -0.88), (-0.07, -0.78),
    (-0.19, -0.52), (-0.16, -0.45), (-0.12, -0.50), (-0.06, -0.65), (0.02, -0.70), (0.03, 0.88),
    (0.07, 0.95), (0.15, 0.90), (0.20, 0.96), (0.28, 0.96), (0.34, 0.94), (0.40, 0.99), (0.46, 0.97),
    (0.52, 0.98), (0.57, 0.97), (0.62, 0.98), (0.70, 0.99), (0.78, 0.99), (0.08, 0.70), (0.18, 0.80),
])

row_data = [
    [mcf7_pc2, mcf7_pc100, mcf7_leaky100, mcf7_cos1024, mcf7_leaky1024],
    [hcc_pc2, hcc_pc100, hcc_leaky100, hcc_cos1024, hcc_leaky1024],
]

# axes boxes in pixels (left, right), (top, bottom)
W, H = 1192, 414
col_px = [
    [(52, 233), (283, 467), (529, 711), (766, 947), (997, 1179)],
    [(52, 233), (283, 467), (532, 717), (765, 948), (1002, 1184)],
]
row_px = [(38, 174), (246, 381)]
title_y = [17, 222]
letter_y = [18, 213]
xlabel_pad = [7, 10]

fig = plt.figure(figsize=(W / 100, H / 100), dpi=100)

for r in range(2):
    top, bot = row_px[r]
    for c in range(5):
        left, right = col_px[r][c]
        ax = fig.add_axes([left / W, 1 - bot / H, (right - left) / W, (bot - top) / H])
        pts = row_data[r][c]
        ax.scatter(pts[:, 0], pts[:, 1], s=14, color='#0000ff', linewidths=0)
        ax.set_xlim(-1, 1)
        ax.set_ylim(-1, 1)
        ax.set_xticks(ticks)
        ax.set_yticks(ticks)
        ax.tick_params(labelsize=3.4, length=1.5, width=0.5, pad=1, colors='#333333')
        for lbl in ax.get_xticklabels() + ax.get_yticklabels():
            lbl.set_fontfamily('DejaVu Sans')
        for sp in ax.spines.values():
            sp.set_color('#808080')
            sp.set_linewidth(0.8)
        ax.set_xlabel(xlabel, fontsize=8.5, labelpad=xlabel_pad[r])
        ax.set_ylabel(ylabels[c], fontsize=8.5, labelpad=2.5 if c < 2 else 1.5, linespacing=1.05)
    fig.text(0.507, 1 - title_y[r] / H, row_titles[r], ha='center', va='center', fontsize=6.8)
    fig.text(10 / W, 1 - letter_y[r] / H, row_letters[r], ha='left', va='center',
             fontsize=17, fontweight='bold')

fig.savefig('out.png', dpi=100)
